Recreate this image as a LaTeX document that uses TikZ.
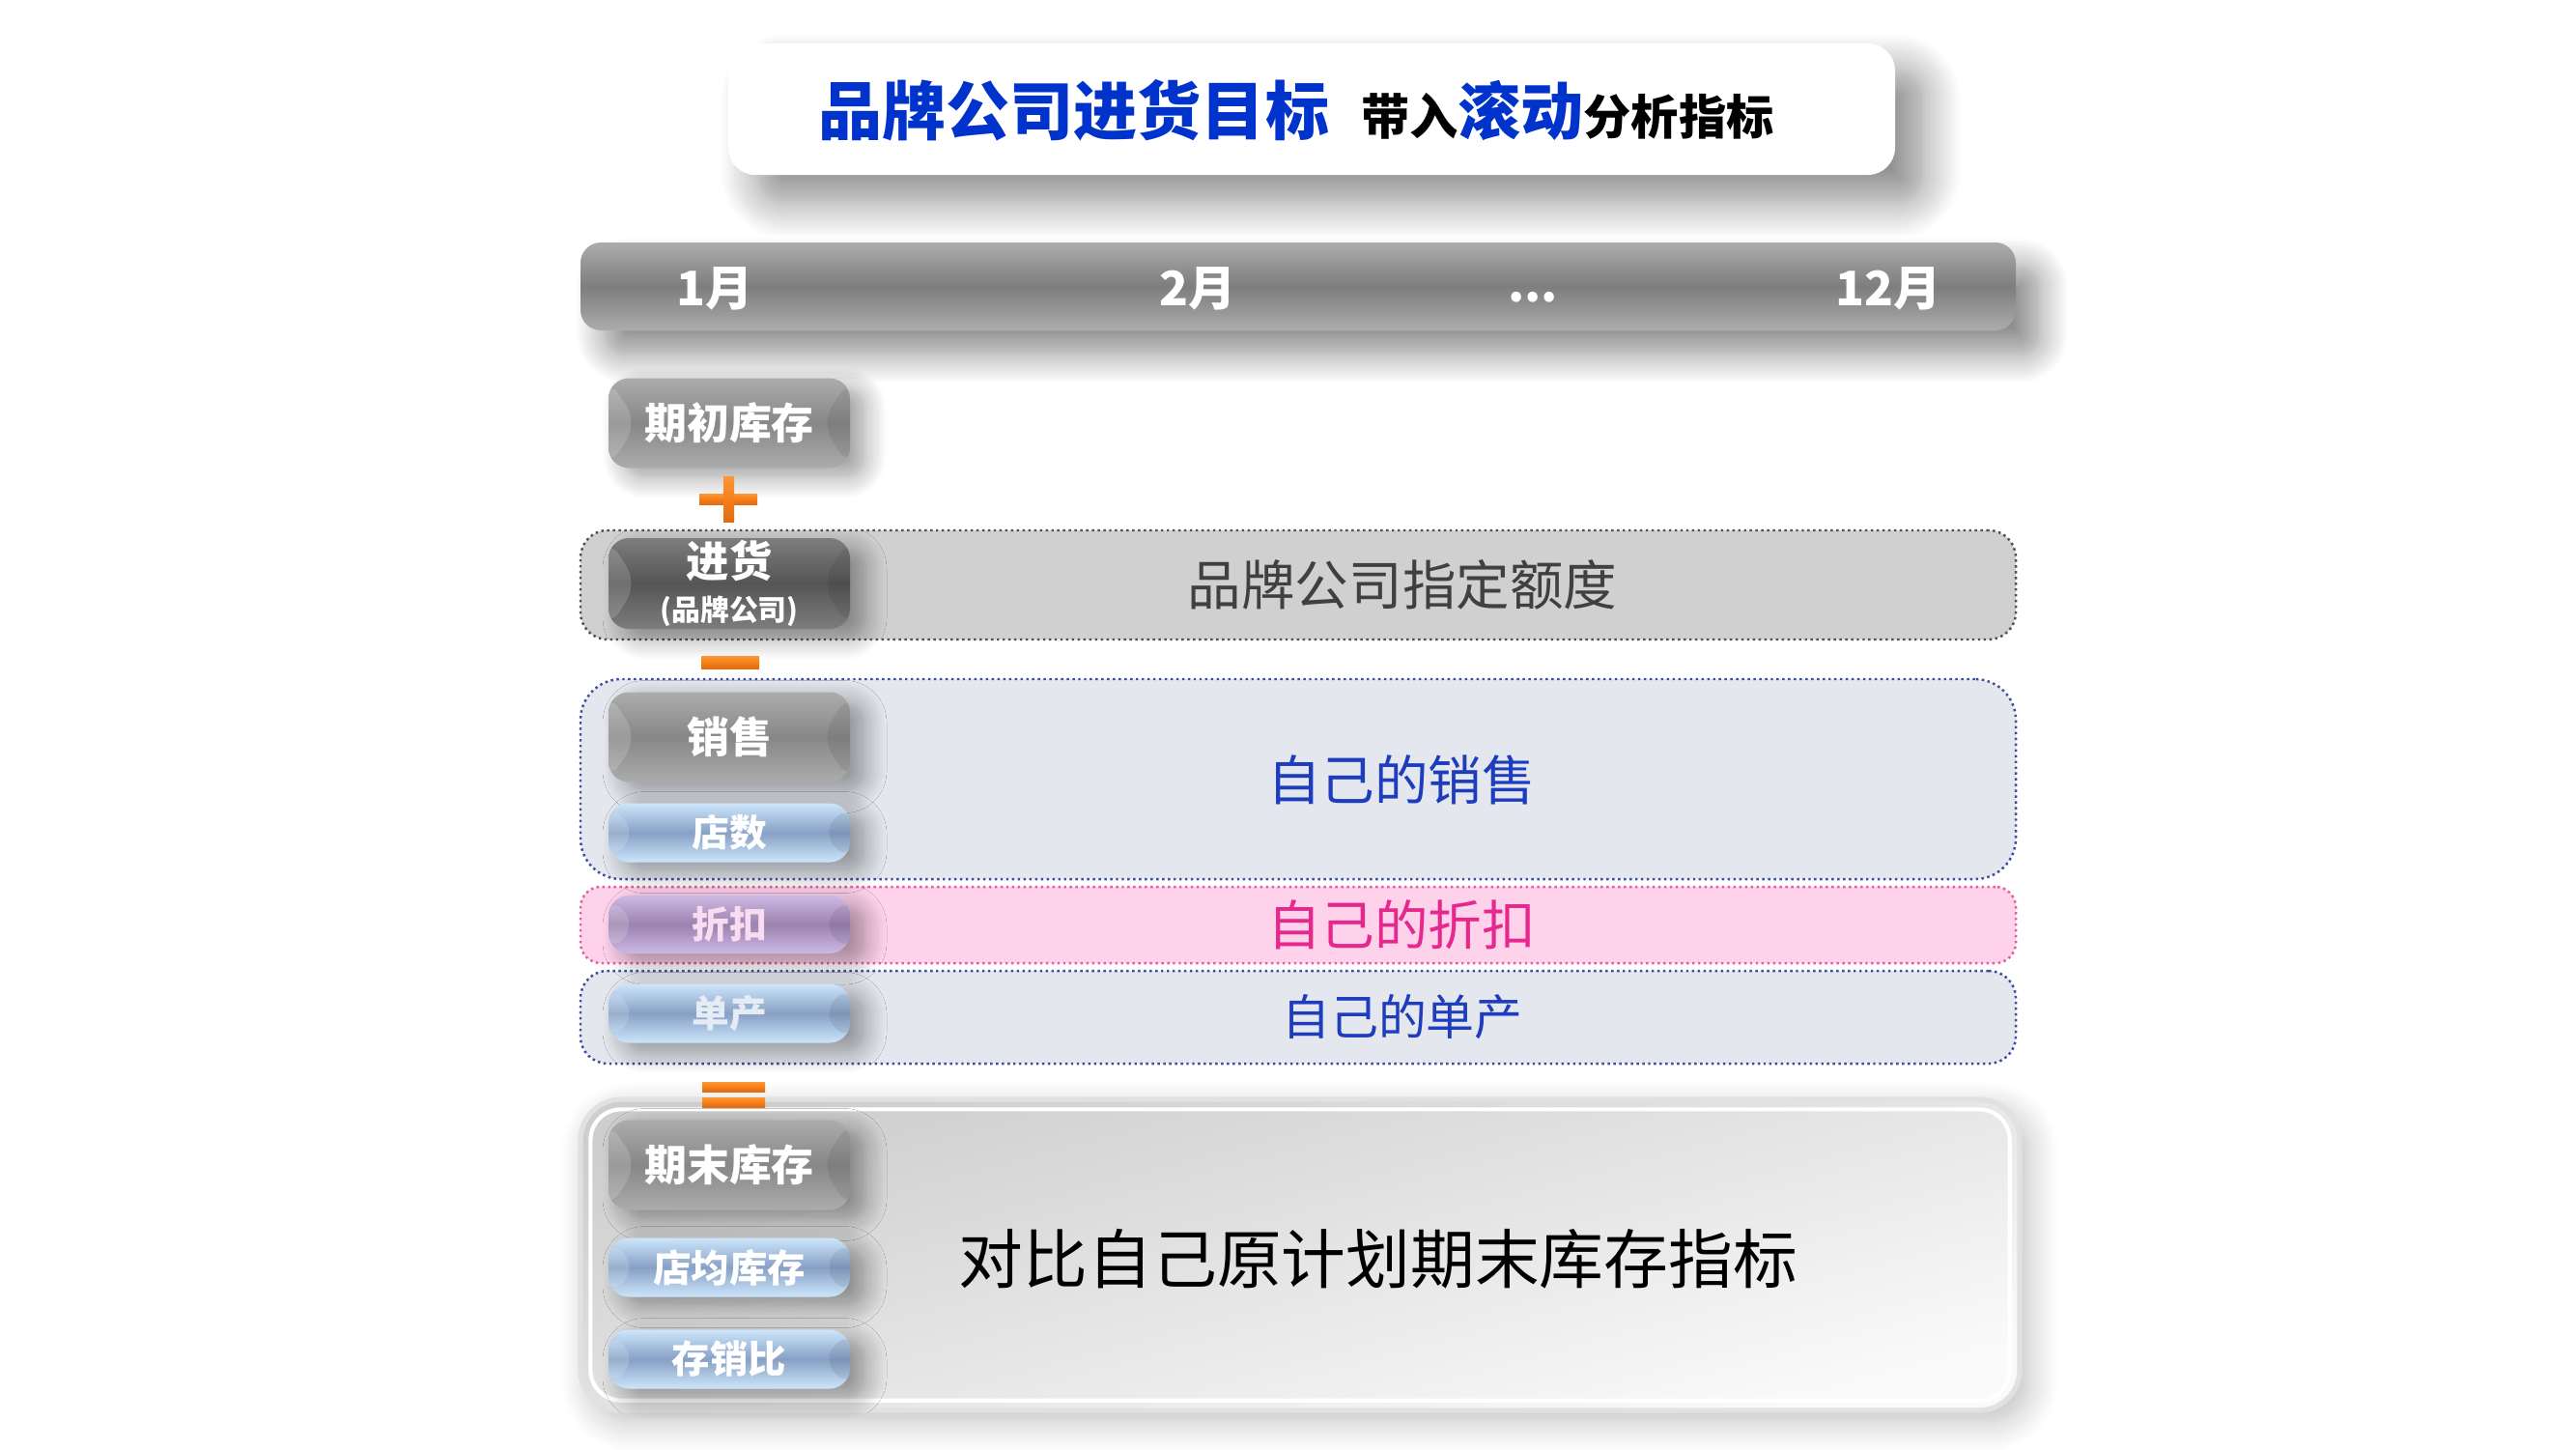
\documentclass[tikz,border=0pt]{standalone}
\usepackage{fontspec}
\setmainfont{Noto Sans CJK SC}
\usetikzlibrary{positioning,shadows.blur}

\definecolor{titleblue}{RGB}{0,51,204}
\definecolor{ownblue}{RGB}{30,60,190}
\definecolor{ownpink}{RGB}{230,40,140}
\definecolor{grayedge}{RGB}{172,172,172}
\definecolor{graymid}{RGB}{135,135,135}
\definecolor{darkedge}{RGB}{125,125,125}
\definecolor{darkmid}{RGB}{85,85,85}
\definecolor{blueedge}{RGB}{205,230,252}
\definecolor{bluemid}{RGB}{135,160,196}
\definecolor{purpleedge}{RGB}{205,185,228}
\definecolor{purplemid}{RGB}{155,130,175}
\definecolor{rowgray}{RGB}{208,208,208}
\definecolor{rowblue}{RGB}{228,232,238}
\definecolor{rowpink}{RGB}{255,210,236}
\definecolor{lineblue}{RGB}{60,75,160}
\definecolor{linepink}{RGB}{230,90,160}
\definecolor{orlight}{RGB}{255,150,50}
\definecolor{ordark}{RGB}{230,105,10}

\begin{document}
\begin{tikzpicture}
  [btn/.style={rounded corners=6pt, minimum width=2.5cm, inner sep=0pt,
    align=center, text=white, font=\bfseries\fontsize{11}{12}\selectfont,
    blur shadow={shadow xshift=.16cm, shadow yshift=-.1cm,
      shadow blur radius=.22cm, shadow blur steps=10, shadow opacity=38},
    path picture={
      \fill[white,opacity=.16] (path picture bounding box.north west)
      -- ([xshift=.3cm]path picture bounding box.west)
      -- (path picture bounding box.south west) -- cycle;
      \fill[black,opacity=.07] (path picture bounding box.north east)
      -- ([xshift=-.3cm]path picture bounding box.east)
      -- (path picture bounding box.south east) -- cycle;}},
  graybtn/.style={btn, minimum height=.93cm, top color=grayedge,
    bottom color=grayedge, middle color=graymid,
    font=\bfseries\fontsize{12.5}{14}\selectfont},
  darkbtn/.style={btn, minimum height=.94cm, top color=darkedge,
    bottom color=darkedge, middle color=darkmid},
  bluebtn/.style={btn, minimum height=.61cm, top color=blueedge,
    bottom color=blueedge, middle color=bluemid},
  purplebtn/.style={btn, minimum height=.6cm, top color=purpleedge,
    bottom color=purpleedge, middle color=purplemid,
    text={rgb,255:red,250;green,220;blue,240}},
  row/.style={minimum width=14.86cm, inner sep=0pt, densely dotted,
    line width=.7pt},
  rowtext/.style={font=\fontsize{15.8}{17}\selectfont},
  month/.style={text=white, font=\bfseries\fontsize{14}{15}\selectfont},
  sign/.style={top color=orlight, bottom color=ordark}]

  \useasboundingbox (0,0) rectangle (26.67,-15);

  % heading
  \node[fill=white, rounded corners=8pt, minimum width=12.08cm,
    minimum height=1.36cm,
    blur shadow={shadow xshift=.3cm, shadow yshift=-.28cm,
      shadow blur radius=.38cm, shadow blur steps=14, shadow opacity=45}]
    (headbox) at (13.58,-1.13) {};
  \node (title) at (13.42,-1.14) {\bfseries
    \color{titleblue}\fontsize{18.8}{20}\selectfont 品牌公司进货目标\hspace{.33cm}%
    \color{black}\fontsize{14.3}{16}\selectfont 带入%
    \color{titleblue}\fontsize{18.5}{20}\selectfont 滚动%
    \color{black}\fontsize{14}{16}\selectfont 分析指标};

  % months
  \node[rounded corners=6pt, minimum width=14.86cm, minimum height=.91cm,
    top color=grayedge, bottom color=grayedge,
    middle color={rgb,255:red,125;green,125;blue,125},
    blur shadow={shadow xshift=.25cm, shadow yshift=-.25cm,
      shadow blur radius=.3cm, shadow blur steps=12, shadow opacity=45}]
    (months) at (13.44,-2.965) {};
  \node[month] (jan) at (7.40,-2.99) {1月};
  \node[month] (feb) at (12.40,-2.99) {2月};
  \node[month] (dots) at (15.87,-3.08) {...};
  \node[month] (dec) at (19.55,-2.99) {12月};

  % rows
  \node[row, rounded corners=8pt, fill=rowgray,
    draw={rgb,255:red,80;green,80;blue,80}, minimum height=1.13cm]
    (quota) at (13.44,-6.055) {};
  \node[row, rounded corners=12pt, fill=rowblue, draw=lineblue,
    minimum height=2.07cm] (sales) at (13.44,-8.065) {};
  \node[row, rounded corners=6pt, fill=rowpink, draw=linepink,
    minimum height=.79cm] (discount) at (13.44,-9.575) {};
  \node[row, rounded corners=8pt, fill=rowblue, draw=lineblue,
    minimum height=.96cm] (output) at (13.44,-10.53) {};

  \node[rowtext, text={rgb,255:red,64;green,64;blue,64}] (quotatext)
    at (14.52,-6.05) {品牌公司指定额度};
  \node[rowtext, text=ownblue] (salestext) at (14.51,-8.07) {自己的销售};
  \node[rowtext, text=ownpink] (discounttext) at (14.51,-9.57) {自己的折扣};
  \node[font=\fontsize{14.2}{15}\selectfont, text=ownblue] (outputtext)
    at (14.52,-10.53) {自己的单产};

  % closing stock
  \node[minimum width=14.9cm, minimum height=3.22cm, rounded corners=12pt,
    top color={rgb,255:red,206;green,206;blue,206},
    bottom color={rgb,255:red,250;green,250;blue,250}, shading angle=15,
    draw={rgb,255:red,225;green,225;blue,225}, line width=1.5pt,
    blur shadow={shadow xshift=.1cm, shadow yshift=-.12cm,
      shadow blur radius=.3cm, shadow blur steps=10, shadow opacity=25}]
    (closing) at (13.46,-12.99) {};
  \draw[white, line width=1.2pt, rounded corners=9pt]
    ([shift={(.13,-.13)}]closing.north west) rectangle
    ([shift={(-.13,.13)}]closing.south east);
  \node[font=\fontsize{19}{20}\selectfont] (closingtext) at (14.27,-13.03)
    {对比自己原计划期末库存指标};

  % labels on the left
  \node[graybtn] (opening) at (7.55,-4.38) {期初库存};
  \node[darkbtn] (purchase) at (7.55,-6.04)
    {\fontsize{12.6}{13}\selectfont 进货\\[1pt]
    \fontsize{8.5}{9}\selectfont (品牌公司)};
  \node[graybtn] (sold) at (7.55,-7.63) {销售};
  \node[bluebtn] (shops) at (7.55,-8.62) {店数};
  \node[purplebtn] (rebate) at (7.55,-9.57) {折扣};
  \node[bluebtn, text={rgb,255:red,230;green,236;blue,244}] (pershop)
    at (7.55,-10.49) {单产};
  \node[graybtn] (stock) at (7.55,-12.06) {期末库存};
  \node[bluebtn, font=\bfseries\fontsize{11.2}{12}\selectfont] (avgstock)
    at (7.55,-13.12) {店均库存};
  \node[bluebtn, font=\bfseries\fontsize{11.2}{12}\selectfont] (ratio)
    at (7.55,-14.07) {存销比};

  % plus, minus, equals
  \fill[sign] (7.24,-5.11) rectangle (7.84,-5.22);
  \fill[sign] (7.49,-4.93) rectangle (7.60,-5.40);
  \fill[sign] (7.26,-6.79) rectangle (7.86,-6.92);
  \fill[sign] (7.27,-11.20) rectangle (7.92,-11.30);
  \fill[sign] (7.27,-11.36) rectangle (7.92,-11.46);
\end{tikzpicture}
\end{document}
